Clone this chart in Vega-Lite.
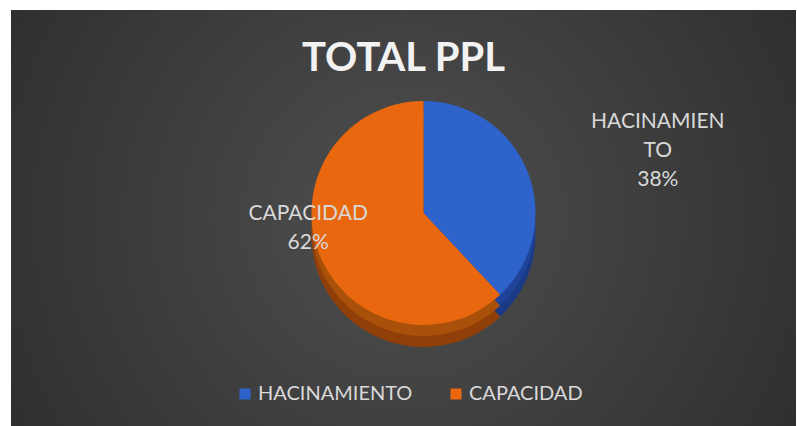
{
  "$schema": "https://vega.github.io/schema/vega-lite/v6.json",
  "width": 785,
  "height": 416,
  "autosize": {"type": "none"},
  "padding": {"left": 11, "top": 10, "right": 1, "bottom": 0},
  "background": "white",
  "view": {
    "stroke": null,
    "fill": {
      "gradient": "radial",
      "x1": 0.5, "y1": 0.5, "x2": 0.5, "y2": 0.5,
      "r1": 0, "r2": 0.75,
      "stops": [
        {"offset": 0, "color": "#4f4f4f"},
        {"offset": 1, "color": "#252525"}
      ]
    }
  },
  "title": {
    "text": "TOTAL PPL",
    "font": "Lato",
    "fontWeight": "bold",
    "fontSize": 40,
    "color": "#f2f2f2",
    "anchor": "middle",
    "frame": "group",
    "baseline": "alphabetic",
    "offset": -101
  },
  "data": {
    "values": [
      {"category": "HACINAMIENTO", "percent": 38, "label": "HACINAMIEN\nTO\n38%", "rank": 1},
      {"category": "CAPACIDAD", "percent": 62, "label": "CAPACIDAD\n62%", "rank": 2}
    ]
  },
  "layer": [
    {
      "mark": {"type": "arc", "outerRadius": 112, "xOffset": 20, "yOffset": 17},
      "encoding": {
        "theta": {"field": "percent", "type": "quantitative", "stack": true},
        "order": {"field": "rank", "type": "quantitative"},
        "color": {
          "field": "category", "type": "nominal",
          "scale": {"domain": ["HACINAMIENTO", "CAPACIDAD"], "range": ["#1a3a86", "#8f3f07"]},
          "legend": null
        }
      }
    },
    {
      "mark": {"type": "arc", "outerRadius": 112, "xOffset": 20, "yOffset": 6},
      "encoding": {
        "theta": {"field": "percent", "type": "quantitative", "stack": true},
        "order": {"field": "rank", "type": "quantitative"},
        "color": {
          "field": "category", "type": "nominal",
          "scale": {"domain": ["HACINAMIENTO", "CAPACIDAD"], "range": ["#1e4399", "#a9500b"]},
          "legend": null
        }
      }
    },
    {
      "mark": {"type": "arc", "outerRadius": 112, "xOffset": 20, "yOffset": -5},
      "encoding": {
        "theta": {"field": "percent", "type": "quantitative", "stack": true},
        "order": {"field": "rank", "type": "quantitative"},
        "color": {
          "field": "category", "type": "nominal",
          "sort": ["HACINAMIENTO", "CAPACIDAD"],
          "scale": {"domain": ["HACINAMIENTO", "CAPACIDAD"], "range": ["#2f63cc", "#e9680f"]},
          "legend": {
            "title": null,
            "orient": "none",
            "direction": "horizontal",
            "legendX": 224,
            "legendY": 374,
            "symbolType": "square",
            "symbolSize": 121,
            "symbolStrokeWidth": 0,
            "labelFont": "Lato",
            "labelFontSize": 20,
            "labelColor": "#d9d9d9",
            "labelOffset": 3,
            "columnPadding": 33
          }
        }
      }
    },
    {
      "mark": {"type": "text", "radius": 252, "xOffset": 20, "dy": -3, "font": "Lato", "fontSize": 21, "color": "#d9d9d9", "lineHeight": 29, "lineBreak": "\n", "align": "center", "baseline": "middle"},
      "encoding": {
        "theta": {"field": "percent", "type": "quantitative", "stack": true},
        "order": {"field": "rank", "type": "quantitative"},
        "text": {"condition": {"test": "datum.category === 'HACINAMIENTO'", "field": "label"}, "value": ""}
      }
    },
    {
      "mark": {"type": "text", "radius": 124, "xOffset": 20, "dy": -50, "font": "Lato", "fontSize": 21, "color": "#d9d9d9", "lineHeight": 29, "lineBreak": "\n", "align": "center", "baseline": "middle"},
      "encoding": {
        "theta": {"field": "percent", "type": "quantitative", "stack": true},
        "order": {"field": "rank", "type": "quantitative"},
        "text": {"condition": {"test": "datum.category === 'CAPACIDAD'", "field": "label"}, "value": ""}
      }
    }
  ],
  "resolve": {"scale": {"color": "independent"}}
}
